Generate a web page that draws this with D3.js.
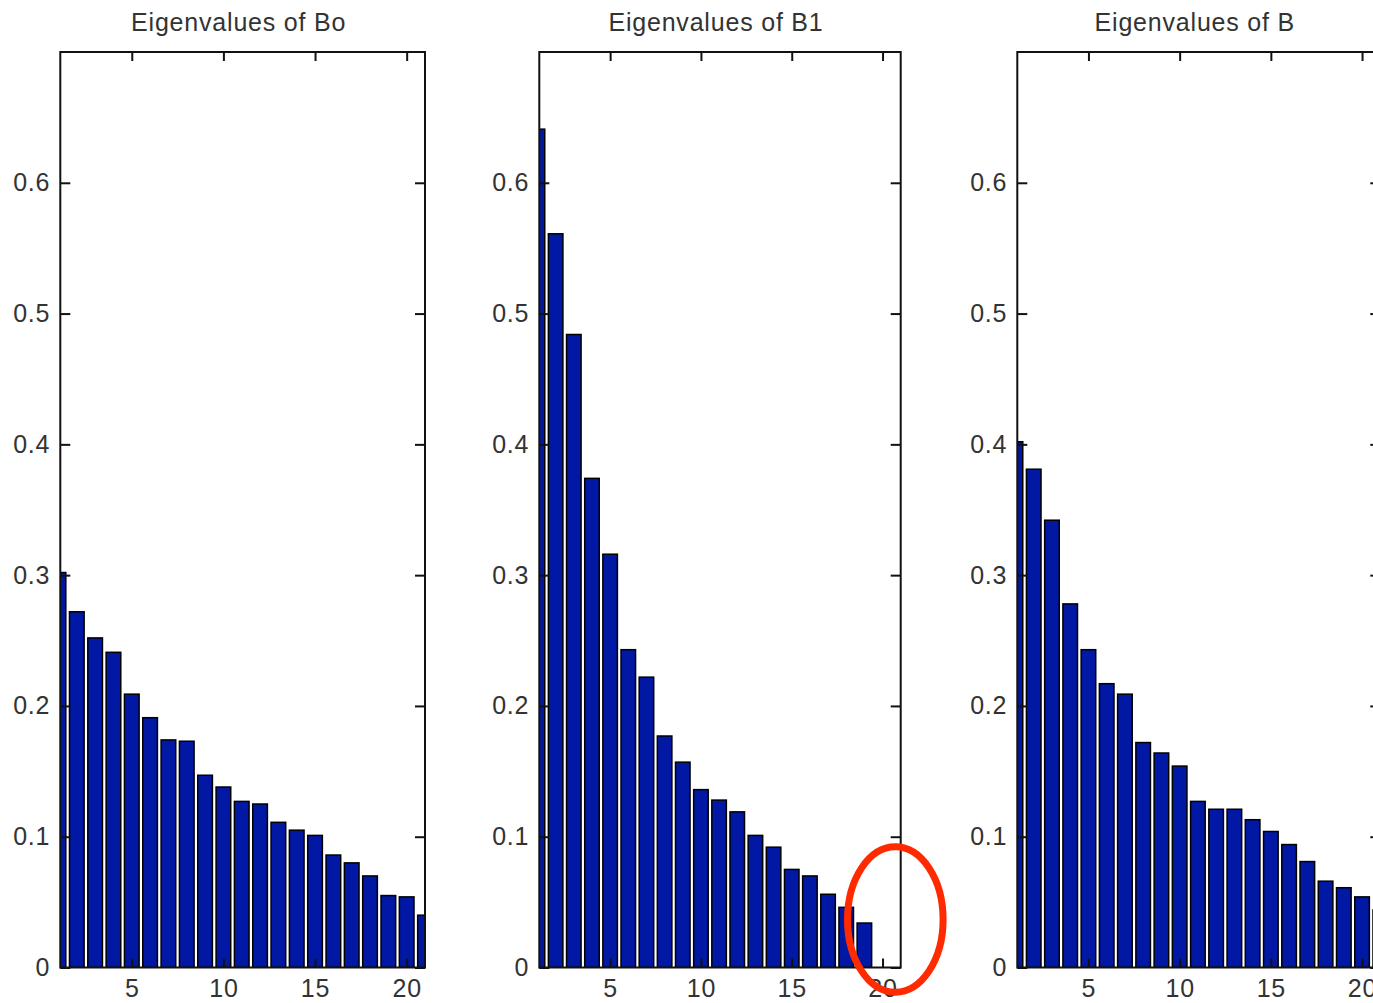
<!DOCTYPE html>
<html>
<head>
<meta charset="utf-8">
<script src="https://cdn.jsdelivr.net/npm/d3@7"></script>
<style>
    body { margin: 0; background: #fff; }
    text { font-family: "Liberation Sans", Arial, sans-serif; fill: #333; }
</style>
</head>
<body>
<svg id="vis" width="1373" height="1003"></svg>
<script>
// eigenvalues
let titles = ["Eigenvalues of Bo", "Eigenvalues of B1", "Eigenvalues of B"];
let eigBo = [0.302, 0.272, 0.252, 0.241, 0.209, 0.191, 0.174, 0.173, 0.147, 0.138, 0.127,
             0.125, 0.111, 0.105, 0.101, 0.086, 0.080, 0.070, 0.055, 0.054, 0.040];
let eigB1 = [0.641, 0.561, 0.484, 0.374, 0.316, 0.243, 0.222, 0.177, 0.157, 0.136, 0.128,
             0.119, 0.101, 0.092, 0.075, 0.070, 0.056, 0.046, 0.034];
let eigB = [0.402, 0.381, 0.342, 0.278, 0.243, 0.217, 0.209, 0.172, 0.164, 0.154, 0.127,
            0.121, 0.121, 0.113, 0.104, 0.094, 0.081, 0.066, 0.061, 0.054, 0.044];
let xTicks = [5, 10, 15, 20];
let yTicks = [0, 0.1, 0.2, 0.3, 0.4, 0.5, 0.6];

let panels = [eigBo, eigB1, eigB];
let lefts = [60.3, 539.3, 1017.3];
let widths = [364.7, 361.4, 363];
let plotTop = 52, plotBottom = 967.5;

let svg = d3.select("#vis");

function panel(i) {
    let data = panels[i];
    let x0 = lefts[i];
    let panelW = widths[i];

    let x = d3.scaleLinear().domain([1.1, 21]).range([x0, x0 + panelW]);
    let y = d3.scaleLinear().domain([0, 0.7]).range([plotBottom, plotTop]);

    let g = svg.append("g");

    g.append("clipPath").attr("id", "clip" + i)
        .append("rect")
        .attr("x", x0).attr("y", plotTop)
        .attr("width", panelW).attr("height", plotBottom - plotTop);

    let bw = x(1.8) - x(1);
    g.append("g").attr("clip-path", `url(#clip${i})`)
        .selectAll("rect")
        .data(data)
        .enter().append("rect")
            .attr("x", (d, k) => x(k + 1) - bw / 2)
            .attr("y", d => y(d))
            .attr("width", bw)
            .attr("height", d => y(0) - y(d))
            .attr("fill", "rgb(0, 24, 164)")
            .attr("stroke", "#000")
            .attr("stroke-width", 1.5);

    // inward ticks on all four sides
    let axes = [
        [d3.axisBottom(x).tickValues(xTicks).tickSize(-9).tickPadding(12), `translate(0,${plotBottom})`],
        [d3.axisTop(x).tickValues(xTicks).tickSize(-9).tickFormat(""), `translate(0,${plotTop})`],
        [d3.axisLeft(y).tickValues(yTicks).tickSize(-10).tickPadding(10).tickFormat(d3.format("")), `translate(${x0},0)`],
        [d3.axisRight(y).tickValues(yTicks).tickSize(-10).tickFormat(""), `translate(${x0 + panelW},0)`]
    ];
    axes.forEach(a => {
        let ax = g.append("g").attr("transform", a[1]).call(a[0].tickSizeOuter(0));
        ax.select(".domain").remove();
        ax.selectAll("line").attr("stroke", "#111").attr("stroke-width", 2);
        ax.selectAll("text")
            .attr("fill", "#333")
            .style("font-size", "25px")
            .style("letter-spacing", "0.8px")
            .style("font-family", "'Liberation Sans', Arial, sans-serif");
    });

    g.append("rect")
        .attr("x", x0).attr("y", plotTop)
        .attr("width", panelW).attr("height", plotBottom - plotTop)
        .attr("fill", "none")
        .attr("stroke", "#111")
        .attr("stroke-width", 2);

    g.append("text")
        .attr("x", x0 + panelW / 2 - 4)
        .attr("y", 31)
        .attr("text-anchor", "middle")
        .style("font-size", "25px")
        .style("letter-spacing", "0.8px")
        .text(titles[i]);
}

panels.forEach((d, i) => panel(i));

// red circle marking the missing 20th eigenvalue
svg.append("ellipse")
    .attr("cx", 895.3).attr("cy", 919.5)
    .attr("rx", 47.8).attr("ry", 72.7)
    .attr("fill", "none")
    .attr("stroke", "#ff2a00")
    .attr("stroke-width", 7);
</script>
</body>
</html>
